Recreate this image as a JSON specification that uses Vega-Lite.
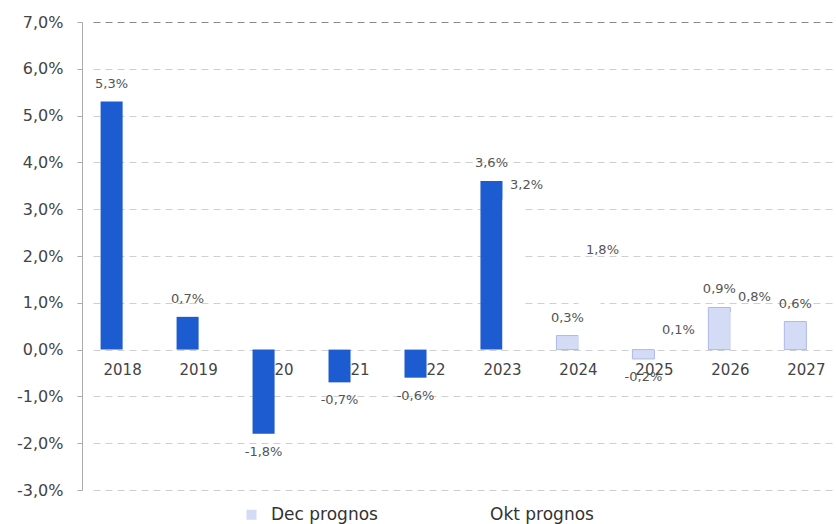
{
  "$schema": "https://vega.github.io/schema/vega-lite/v6.json",
  "width": 743,
  "height": 468,
  "autosize": {"type": "none"},
  "padding": {"left": 93, "top": 22, "right": 0, "bottom": 34},
  "background": "white",
  "config": {
    "locale": {"number": {"decimal": ",", "thousands": "\u00a0", "grouping": [3], "currency": ["", " kr"], "minus": "-"}},
    "view": {"stroke": null},
    "font": "DejaVu Sans"
  },
  "data": {
    "values": [
      {"year": "2018", "serie": "Dec prognos", "typ": "utfall", "value": 0.053},
      {"year": "2019", "serie": "Dec prognos", "typ": "utfall", "value": 0.007},
      {"year": "2020", "serie": "Dec prognos", "typ": "utfall", "value": -0.018},
      {"year": "2021", "serie": "Dec prognos", "typ": "utfall", "value": -0.007},
      {"year": "2022", "serie": "Dec prognos", "typ": "utfall", "value": -0.006},
      {"year": "2023", "serie": "Dec prognos", "typ": "utfall", "value": 0.036},
      {"year": "2024", "serie": "Dec prognos", "typ": "prognos", "value": 0.003},
      {"year": "2025", "serie": "Dec prognos", "typ": "prognos", "value": -0.002},
      {"year": "2026", "serie": "Dec prognos", "typ": "prognos", "value": 0.009},
      {"year": "2027", "serie": "Dec prognos", "typ": "prognos", "value": 0.006},
      {"year": "2023", "serie": "Okt prognos", "typ": "prognos", "value": 0.032},
      {"year": "2024", "serie": "Okt prognos", "typ": "prognos", "value": 0.018},
      {"year": "2025", "serie": "Okt prognos", "typ": "prognos", "value": 0.001},
      {"year": "2026", "serie": "Okt prognos", "typ": "prognos", "value": 0.008}
    ]
  },
  "encoding": {
    "x": {"field": "year", "type": "nominal", "axis": null, "scale": {"paddingInner": 0.42, "paddingOuter": 0.1}}
  },
  "layer": [
    {
      "transform": [{"filter": "datum.serie === 'Dec prognos'"}],
      "mark": {"type": "text", "baseline": "middle", "dy": 20, "fontSize": 15, "color": "#444444"},
      "encoding": {
        "y": {"datum": 0, "type": "quantitative"},
        "text": {"field": "year", "type": "nominal"}
      }
    },
    {
      "mark": {"type": "bar", "strokeWidth": 1},
      "encoding": {
        "xOffset": {"field": "serie", "type": "nominal", "scale": {"domain": ["Dec prognos", "Okt prognos"], "paddingInner": 0}},
        "y": {
          "field": "value", "type": "quantitative",
          "scale": {"domain": [-0.03, 0.07], "nice": false, "zero": false},
          "axis": {
            "title": null, "format": ".1%", "values": [-0.03, -0.02, -0.01, 0, 0.01, 0.02, 0.03, 0.04, 0.05, 0.06, 0.07],
            "offset": 11, "domainColor": "#aaaaaa", "tickColor": "#aaaaaa", "tickSize": 5,
            "labelFontSize": 16, "labelColor": "#444444", "labelPadding": 14,
            "grid": true, "gridDash": [7, 5],
            "gridColor": {"condition": {"test": "datum.value > 0.069", "value": "#8a8a8a"}, "value": "#cfcfcf"}
          }
        },
        "color": {
          "condition": {"test": "datum.typ === 'utfall'", "value": "#1d5bd1"},
          "field": "serie", "type": "nominal",
          "scale": {"domain": ["Dec prognos", "Okt prognos"], "range": ["#d3dbf5", "#ffffff"]},
          "legend": {
            "title": null, "orient": "none", "legendX": 150, "legendY": 484, "direction": "horizontal",
            "symbolType": "square", "symbolSize": 100, "labelFontSize": 17, "labelColor": "#333333",
            "columnPadding": 84, "labelOffset": 11
          }
        },
        "stroke": {
          "condition": {"test": "datum.typ === 'prognos' && datum.serie === 'Dec prognos'", "value": "#aeb8ea"},
          "value": "transparent"
        }
      }
    },
    {
      "transform": [{"filter": "datum.value >= 0 && datum.serie === 'Dec prognos'"}],
      "mark": {"type": "text", "baseline": "middle", "dy": -18, "fontSize": 13, "color": "#555555"},
      "encoding": {
        "xOffset": {"field": "serie", "type": "nominal", "scale": {"domain": ["Dec prognos", "Okt prognos"], "paddingInner": 0}},
        "y": {"field": "value", "type": "quantitative"},
        "text": {"field": "value", "type": "quantitative", "format": ".1%"}
      }
    },
    {
      "transform": [{"filter": "datum.value >= 0 && datum.serie === 'Okt prognos'"}],
      "mark": {"type": "text", "baseline": "middle", "dx": 13, "dy": -15, "fontSize": 13, "color": "#555555"},
      "encoding": {
        "xOffset": {"field": "serie", "type": "nominal", "scale": {"domain": ["Dec prognos", "Okt prognos"], "paddingInner": 0}},
        "y": {"field": "value", "type": "quantitative"},
        "text": {"field": "value", "type": "quantitative", "format": ".1%"}
      }
    },
    {
      "transform": [{"filter": "datum.value < 0"}],
      "mark": {"type": "text", "baseline": "middle", "dy": 18, "fontSize": 13, "color": "#555555"},
      "encoding": {
        "xOffset": {"field": "serie", "type": "nominal", "scale": {"domain": ["Dec prognos", "Okt prognos"], "paddingInner": 0}},
        "y": {"field": "value", "type": "quantitative"},
        "text": {"field": "value", "type": "quantitative", "format": ".1%"}
      }
    }
  ]
}
